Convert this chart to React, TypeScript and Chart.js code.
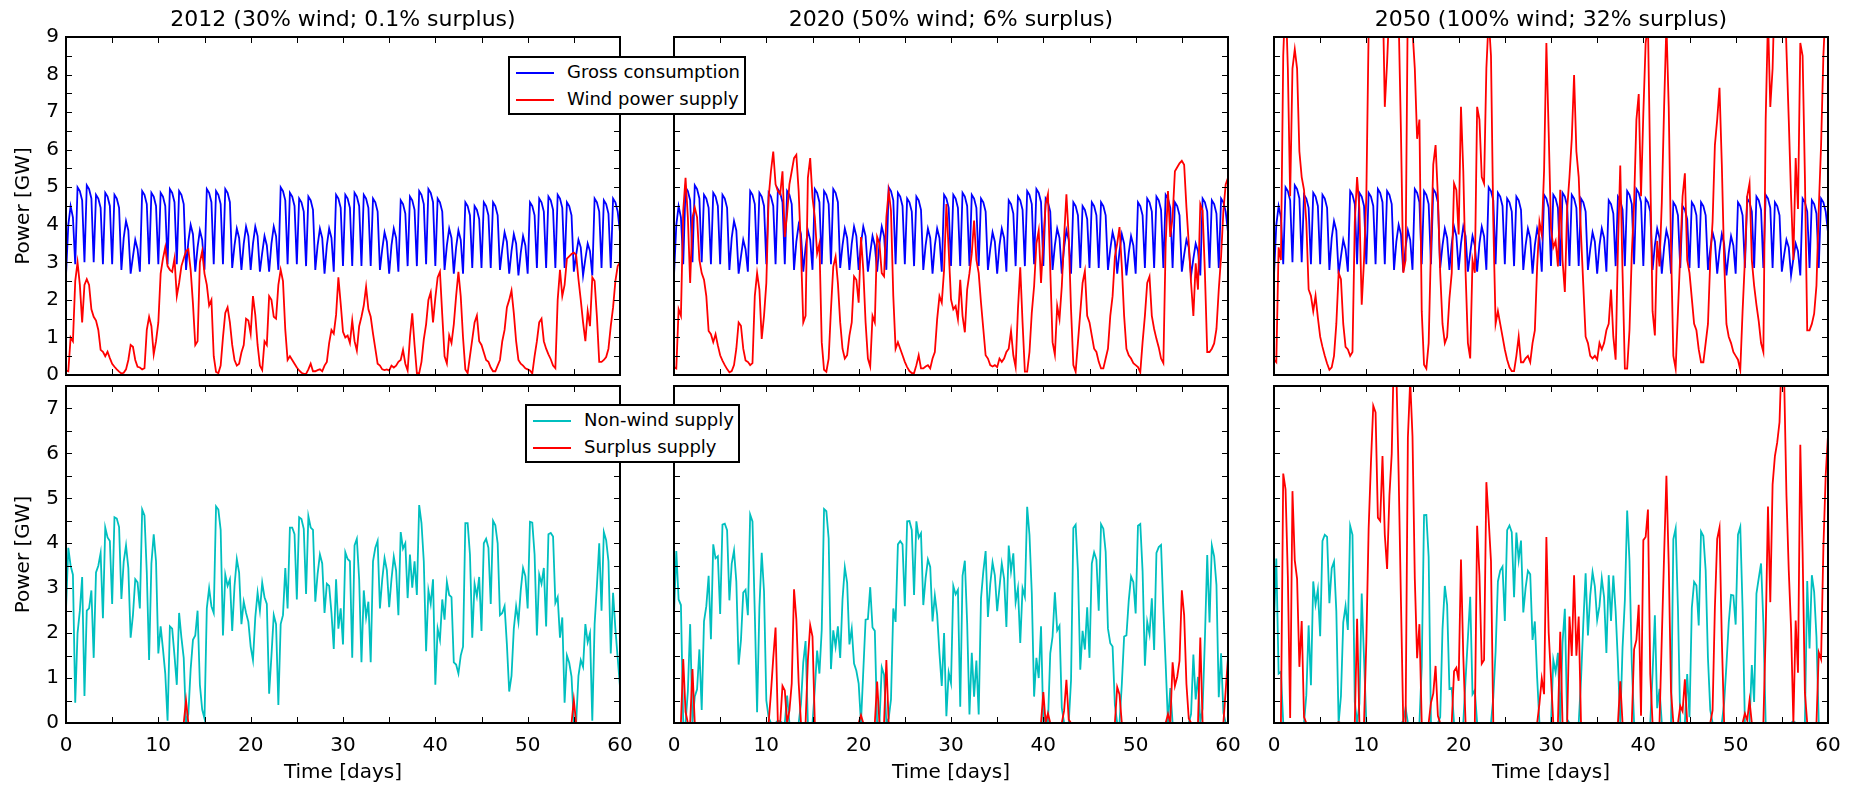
import React, { useEffect, useRef } from 'react';
import { Chart, registerables } from 'chart.js';

Chart.register(...registerables);
Chart.defaults.font.family = "'DejaVu Sans', sans-serif";
Chart.defaults.font.size = 20;
Chart.defaults.color = '#000';

// ---------- data (sampled every 6 hours, 60 days) ----------
const SAMPLES_PER_DAY = 4;

// Gross consumption [GW]
const consumption = [
  2.65, 4.00, 4.50, 4.20, 2.95, 5.00, 4.90, 4.65, 3.00, 5.05, 4.95, 4.70,
  3.00, 4.80, 4.70, 4.45, 2.95, 4.85, 4.75, 4.50, 2.95, 4.80, 4.70, 4.45,
  2.80, 3.65, 4.10, 3.85, 2.70, 3.15, 3.60, 3.35, 2.75, 4.90, 4.80, 4.55,
  2.95, 4.85, 4.75, 4.50, 2.95, 4.85, 4.75, 4.50, 2.95, 4.95, 4.85, 4.60,
  2.95, 4.90, 4.80, 4.55, 2.80, 3.55, 4.00, 3.75, 2.75, 3.40, 3.85, 3.60,
  2.80, 4.95, 4.85, 4.60, 2.95, 4.90, 4.80, 4.55, 2.95, 4.95, 4.85, 4.60,
  2.85, 3.45, 3.90, 3.65, 2.80, 3.50, 3.95, 3.70, 2.80, 3.50, 3.95, 3.70,
  2.75, 3.25, 3.70, 3.45, 2.75, 3.50, 3.95, 3.70, 2.80, 5.00, 4.90, 4.65,
  2.95, 4.85, 4.75, 4.50, 2.95, 4.70, 4.60, 4.35, 2.90, 4.75, 4.65, 4.40,
  2.80, 3.45, 3.90, 3.65, 2.70, 3.45, 3.90, 3.65, 2.75, 4.80, 4.70, 4.45,
  2.90, 4.80, 4.70, 4.45, 2.90, 4.85, 4.75, 4.50, 2.90, 4.80, 4.70, 4.45,
  2.90, 4.70, 4.60, 4.35, 2.80, 3.35, 3.80, 3.55, 2.70, 3.45, 3.90, 3.65,
  2.75, 4.65, 4.55, 4.30, 2.90, 4.75, 4.65, 4.40, 2.90, 4.90, 4.80, 4.55,
  2.95, 4.95, 4.85, 4.60, 2.90, 4.70, 4.60, 4.35, 2.80, 3.45, 3.90, 3.65,
  2.70, 3.40, 3.85, 3.60, 2.70, 4.60, 4.50, 4.25, 2.85, 4.50, 4.40, 4.15,
  2.85, 4.60, 4.50, 4.25, 2.85, 4.60, 4.50, 4.25, 2.80, 3.35, 3.80, 3.55,
  2.70, 3.30, 3.75, 3.50, 2.65, 3.25, 3.70, 3.45, 2.70, 4.60, 4.50, 4.25,
  2.85, 4.70, 4.60, 4.35, 2.85, 4.75, 4.65, 4.40, 2.85, 4.80, 4.70, 4.45,
  2.85, 4.60, 4.50, 4.25, 2.75, 3.20, 3.60, 3.40, 2.65, 3.10, 3.50, 3.30,
  2.65, 4.70, 4.60, 4.35, 2.85, 4.65, 4.55, 4.30, 2.85, 4.70, 4.60, 4.35,
  3.80,
];

// Wind power supply in 2012 [GW]
const wind2012 = [
  0.12, 0.10, 1.00, 0.90, 2.50, 3.00, 2.40, 1.40, 2.40, 2.55, 2.40, 1.75,
  1.55, 1.45, 1.20, 0.67, 0.62, 0.50, 0.62, 0.45, 0.30, 0.22, 0.15, 0.09,
  0.04, 0.06, 0.15, 0.40, 0.80, 0.75, 0.40, 0.22, 0.20, 0.15, 0.18, 1.20,
  1.55, 1.30, 0.55, 0.90, 1.40, 2.70, 3.10, 3.40, 2.90, 2.80, 2.75, 3.10,
  2.10, 2.45, 2.90, 3.10, 3.30, 3.35, 2.80, 1.90, 0.80, 0.90, 3.00, 3.30,
  2.70, 2.40, 1.85, 2.00, 0.50, 0.08, 0.05, 0.25, 1.00, 1.65, 1.80, 1.40,
  0.80, 0.40, 0.25, 0.30, 0.60, 0.80, 1.50, 1.45, 1.10, 2.10, 1.60, 0.80,
  0.25, 0.13, 0.90, 0.80, 2.10, 2.00, 1.55, 1.50, 2.40, 2.80, 2.50, 1.20,
  0.40, 0.50, 0.40, 0.30, 0.20, 0.12, 0.06, 0.03, 0.03, 0.15, 0.30, 0.10,
  0.10, 0.13, 0.15, 0.10, 0.25, 0.35, 0.85, 1.20, 1.10, 1.60, 2.60, 1.90,
  1.15, 1.00, 1.05, 0.85, 1.45, 0.90, 0.65, 1.30, 1.55, 1.85, 2.35, 1.75,
  1.55, 1.10, 0.70, 0.30, 0.25, 0.15, 0.13, 0.15, 0.12, 0.25, 0.20, 0.25,
  0.35, 0.40, 0.67, 0.30, 0.12, 1.00, 1.64, 0.80, 0.05, 0.05, 0.35, 0.95,
  1.35, 2.00, 2.20, 1.40, 2.05, 2.60, 2.75, 1.60, 0.50, 0.31, 1.05, 0.85,
  1.35, 2.10, 2.75, 2.10, 1.00, 0.15, 0.05, 0.50, 0.95, 1.40, 1.58, 0.90,
  0.80, 0.60, 0.40, 0.35, 0.20, 0.10, 0.10, 0.25, 0.40, 0.90, 1.20, 1.80,
  2.00, 2.25, 1.65, 0.90, 0.40, 0.30, 0.25, 0.18, 0.15, 0.12, 0.04, 0.50,
  0.90, 1.40, 1.50, 0.90, 0.70, 0.55, 0.42, 0.25, 0.18, 2.00, 2.80, 2.10,
  2.40, 3.10, 3.16, 3.22, 3.26, 3.20, 2.55, 2.00, 1.40, 0.90, 1.70, 1.30,
  2.60, 2.50, 1.55, 0.35, 0.35, 0.40, 0.48, 0.70, 1.30, 1.80, 2.50, 2.90,
  3.00,
];

// scenarios: wind fleet relative to 2012
const scenarioTitles = [
  '2012 (30% wind; 0.1% surplus)',
  '2020 (50% wind; 6% surplus)',
  '2050 (100% wind; 32% surplus)',
];
const windScale = [1, 1.75, 3.4];

const xTickStep = 5;
const xLabelStep = 10;
const topYMax = 9;
const bottomYMax = 7.5;
const yTickStep = 0.5;

const BLUE = '#0000ff';
const RED = '#ff0000';
const CYAN = '#00bfbf';

// ---------- layout ----------
const COLS = [66, 674, 1274];
const PW = 554;
const TOP_AREA = { top: 37, bottom: 375 };
const BOT_AREA = { top: 386, bottom: 723 };

type Pt = { x: number; y: number };
const time = consumption.map((_, i) => i / SAMPLES_PER_DAY);
const toPts = (arr: number[]): Pt[] => arr.map((v, i) => ({ x: time[i], y: v }));

const frameTicks = {
  id: 'frameTicks',
  afterDatasetsDraw(chart: any) {
    const { ctx, chartArea } = chart;
    const { left, right, top, bottom } = chartArea;
    const xs = chart.scales.x;
    const ys = chart.scales.y;
    const L = 6;
    ctx.save();
    ctx.beginPath();
    ctx.strokeStyle = '#000';
    ctx.lineWidth = 1;
    xs.ticks.forEach((t: any) => {
      const px = Math.round(xs.getPixelForValue(t.value)) + 0.5;
      ctx.moveTo(px, bottom);
      ctx.lineTo(px, bottom - L);
      ctx.moveTo(px, top);
      ctx.lineTo(px, top + L);
    });
    ys.ticks.forEach((t: any) => {
      const py = Math.round(ys.getPixelForValue(t.value)) + 0.5;
      ctx.moveTo(left, py);
      ctx.lineTo(left + L, py);
      ctx.moveTo(right, py);
      ctx.lineTo(right - L, py);
    });
    ctx.stroke();
    ctx.lineWidth = 2;
    ctx.strokeRect(left, top, right - left, bottom - top);
    ctx.restore();
  },
};

const zeroPad = (s: any) => {
  s.paddingLeft = 0;
  s.paddingRight = 0;
  s.paddingTop = 0;
  s.paddingBottom = 0;
};

type DS = { data: Pt[]; color: string; order: number };
type PanelProps = {
  col: number;
  row: number;
  title?: string;
  datasets: DS[];
};

function Panel({ col, row, title, datasets }: PanelProps) {
  const ref = useRef<HTMLCanvasElement | null>(null);
  const showY = col === 0;
  const showX = row === 1;
  const padL = showY ? 66 : 20;
  const padR = 18;
  const area = row === 0 ? TOP_AREA : BOT_AREA;
  const padT = row === 0 ? 37 : 6;
  const padB = row === 0 ? 10 : 790 - area.bottom;
  const h = area.bottom - area.top;
  const cw = padL + PW + padR;
  const ch = padT + h + padB;
  const cleft = COLS[col] - padL;
  const ctop = area.top - padT;
  const yMax = row === 0 ? topYMax : bottomYMax;

  useEffect(() => {
    if (!ref.current) return;
    const chart = new Chart(ref.current, {
      type: 'line',
      data: {
        datasets: datasets.map((d) => ({
          data: d.data,
          borderColor: d.color,
          backgroundColor: d.color,
          borderWidth: 1.8,
          pointRadius: 0,
          fill: false,
          tension: 0,
          order: d.order,
          clip: 0,
        })),
      },
      options: {
        responsive: false,
        animation: false,
        devicePixelRatio: 1,
        events: [],
        layout: { padding: { top: title ? 0 : padT, right: padR, left: 0, bottom: 0 } },
        plugins: {
          legend: { display: false },
          tooltip: { enabled: false },
          title: title
            ? {
                display: true,
                text: title,
                fullSize: false,
                color: '#000',
                font: { size: 22, weight: 'normal' },
                padding: { top: 7, bottom: 3.6 },
              }
            : { display: false },
        },
        scales: {
          x: {
            type: 'linear',
            min: 0,
            max: 60,
            grid: { display: false, drawTicks: false },
            border: { display: false },
            ticks: {
              display: showX,
              stepSize: xTickStep,
              autoSkip: false,
              maxRotation: 0,
              padding: 11,
              color: '#000',
              font: { size: 20 },
              callback: (v: any) => (Number(v) % xLabelStep === 0 ? String(v) : ''),
            },
            title: showX
              ? { display: true, text: 'Time [days]', color: '#000', font: { size: 20 }, padding: { top: 0, bottom: 5 } }
              : { display: false },
            afterFit: (s: any) => {
              s.height = padB;
              zeroPad(s);
            },
          },
          y: {
            type: 'linear',
            min: 0,
            max: yMax,
            grid: { display: false, drawTicks: false },
            border: { display: false },
            ticks: {
              display: showY,
              stepSize: yTickStep,
              autoSkip: false,
              padding: 7,
              color: '#000',
              font: { size: 20 },
              callback: (v: any) => (Number.isInteger(Number(v)) ? String(v) : ''),
            },
            title: showY
              ? { display: true, text: 'Power [GW]', color: '#000', font: { size: 20 }, padding: { top: 12, bottom: 0 } }
              : { display: false },
            afterFit: (s: any) => {
              s.width = padL;
              zeroPad(s);
            },
          },
        },
      } as any,
      plugins: [frameTicks],
    });
    return () => chart.destroy();
  }, []);

  return (
    <canvas
      ref={ref}
      width={cw}
      height={ch}
      style={{ position: 'absolute', left: cleft, top: ctop, width: cw, height: ch }}
    />
  );
}

function Legend({ left, top, width, items }: { left: number; top: number; width: number; items: { label: string; color: string }[] }) {
  return (
    <div
      style={{
        position: 'absolute',
        left,
        top,
        width,
        height: 59,
        boxSizing: 'border-box',
        border: '2px solid #000',
        background: '#fff',
        fontFamily: "'DejaVu Sans', sans-serif",
        fontSize: 18,
        color: '#000',
        zIndex: 5,
      }}
    >
      {items.map((it, i) => (
        <div key={i} style={{ position: 'absolute', left: 0, top: 2 + i * 27, height: 24, width: '100%' }}>
          <div style={{ position: 'absolute', left: 6, top: 12, width: 38, height: 2, background: it.color }} />
          <div style={{ position: 'absolute', left: 57, top: 1, lineHeight: '22px', whiteSpace: 'nowrap' }}>{it.label}</div>
        </div>
      ))}
    </div>
  );
}

export default function App() {
  const consPts = toPts(consumption);
  const panels: React.ReactNode[] = [];
  windScale.forEach((k, col) => {
    const wind = wind2012.map((v) => v * k);
    const nonWind = consumption.map((c, i) => Math.max(c - wind[i], 0));
    const surplus = consumption.map((c, i) => Math.max(wind[i] - c, 0));
    panels.push(
      <Panel
        key={'t' + col}
        col={col}
        row={0}
        title={scenarioTitles[col]}
        datasets={[
          { data: consPts, color: BLUE, order: 1 },
          { data: toPts(wind), color: RED, order: 0 },
        ]}
      />
    );
    panels.push(
      <Panel
        key={'b' + col}
        col={col}
        row={1}
        datasets={[
          { data: toPts(nonWind), color: CYAN, order: 1 },
          { data: toPts(surplus), color: RED, order: 0 },
        ]}
      />
    );
  });

  return (
    <div style={{ position: 'absolute', left: 0, top: 0, width: 1851, height: 790, overflow: 'hidden', background: '#fff' }}>
      {panels}
      <Legend
        left={508}
        top={56}
        width={238}
        items={[
          { label: 'Gross consumption', color: BLUE },
          { label: 'Wind power supply', color: RED },
        ]}
      />
      <Legend
        left={525}
        top={404}
        width={215}
        items={[
          { label: 'Non-wind supply', color: CYAN },
          { label: 'Surplus supply', color: RED },
        ]}
      />
    </div>
  );
}
